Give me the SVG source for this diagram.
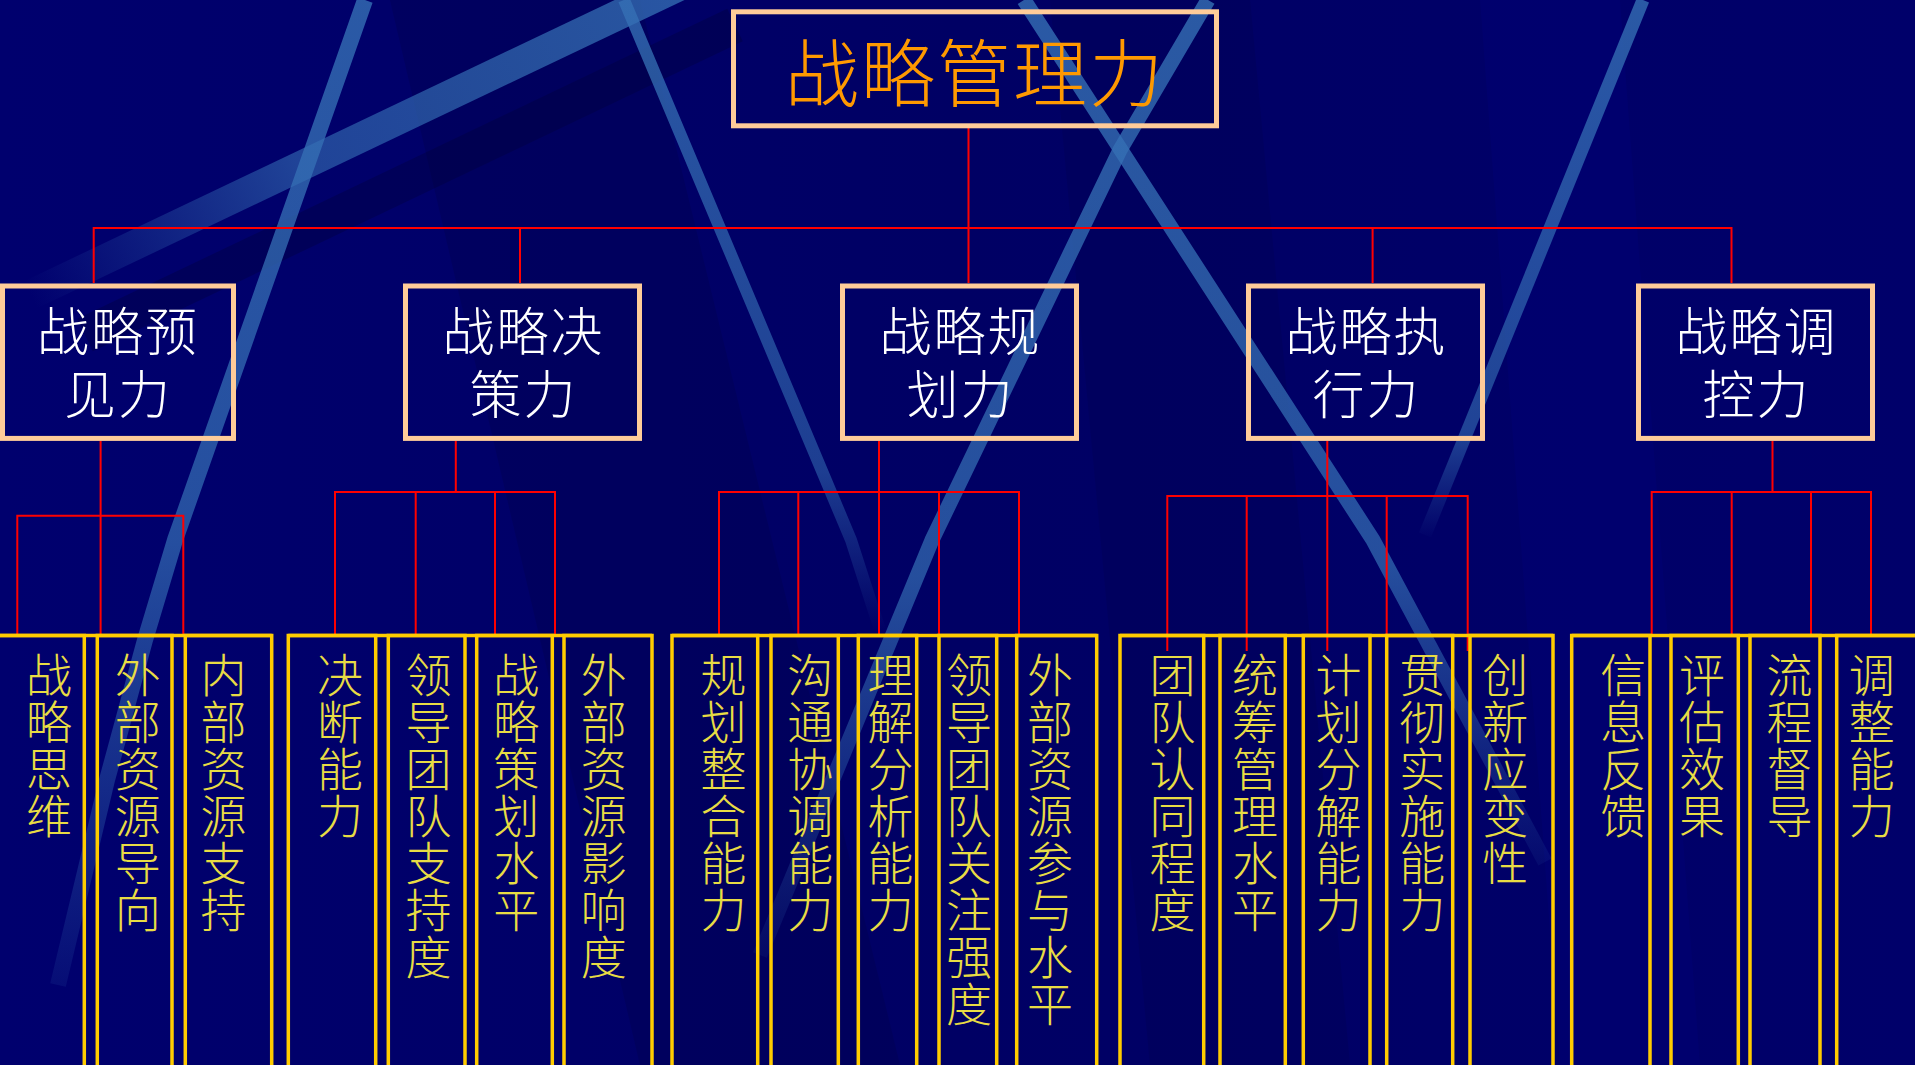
<svg xmlns="http://www.w3.org/2000/svg" width="1915" height="1065" viewBox="0 0 1915 1065">
<style>
.hub{fill:none;stroke:#FFCC99;stroke-width:5}
.leaf{fill:none;stroke:#FFCC00;stroke-width:3.5}
.conn path{fill:none;stroke:#FF0000;stroke-width:2}
.cjk{font-family:"Noto Sans CJK SC","Noto Sans CJK JP",sans-serif;font-weight:300}
.t1{font-size:74px;fill:#FF9900;text-anchor:middle;letter-spacing:2px}
.t2{font-size:52px;fill:#FFFFFF;text-anchor:middle;letter-spacing:2px}
.t3{font-size:46px;fill:#E8DC44;writing-mode:vertical-rl;text-orientation:upright;letter-spacing:1px}
</style>
<defs>
<linearGradient id="bg" x1="0" y1="0" x2="1" y2="0">
<stop offset="0" stop-color="#00006E"/>
<stop offset="0.5" stop-color="#000064"/>
<stop offset="1" stop-color="#00006A"/>
</linearGradient>
<linearGradient id="gS1" gradientUnits="userSpaceOnUse" x1="0" y1="0" x2="0" y2="985">
<stop offset="0" stop-color="#3570B5" stop-opacity="0.8"/>
<stop offset="0.55" stop-color="#3570B5" stop-opacity="0.7"/>
<stop offset="1" stop-color="#3570B5" stop-opacity="0.12"/>
</linearGradient>
<linearGradient id="gS2" gradientUnits="userSpaceOnUse" x1="700" y1="-24" x2="30" y2="295">
<stop offset="0" stop-color="#3570B5" stop-opacity="0.78"/>
<stop offset="0.6" stop-color="#3570B5" stop-opacity="0.6"/>
<stop offset="1" stop-color="#3570B5" stop-opacity="0"/>
</linearGradient>
<linearGradient id="gS3" gradientUnits="userSpaceOnUse" x1="0" y1="0" x2="0" y2="630">
<stop offset="0" stop-color="#3570B5" stop-opacity="0.8"/>
<stop offset="0.75" stop-color="#3570B5" stop-opacity="0.55"/>
<stop offset="1" stop-color="#3570B5" stop-opacity="0"/>
</linearGradient>
<linearGradient id="gS4" gradientUnits="userSpaceOnUse" x1="0" y1="0" x2="0" y2="870">
<stop offset="0" stop-color="#3570B5" stop-opacity="0.8"/>
<stop offset="0.65" stop-color="#3570B5" stop-opacity="0.7"/>
<stop offset="1" stop-color="#3570B5" stop-opacity="0.08"/>
</linearGradient>
<linearGradient id="gS5" gradientUnits="userSpaceOnUse" x1="0" y1="0" x2="0" y2="960">
<stop offset="0" stop-color="#3570B5" stop-opacity="0.8"/>
<stop offset="0.6" stop-color="#3570B5" stop-opacity="0.7"/>
<stop offset="1" stop-color="#3570B5" stop-opacity="0.08"/>
</linearGradient>
<linearGradient id="gS6" gradientUnits="userSpaceOnUse" x1="0" y1="0" x2="0" y2="540">
<stop offset="0" stop-color="#3570B5" stop-opacity="0.8"/>
<stop offset="0.8" stop-color="#3570B5" stop-opacity="0.6"/>
<stop offset="1" stop-color="#3570B5" stop-opacity="0"/>
</linearGradient>
</defs>

<g id="background">
<rect x="0" y="0" width="1915" height="1065" fill="url(#bg)"/>
<polygon points="390,0 640,0 900,1065 640,1065" fill="#00004A" opacity="0.3"/>
<polygon points="1050,0 1250,0 1350,1065 1150,1065" fill="#00004A" opacity="0.25"/>
<polygon points="1480,0 1620,0 1700,1065 1560,1065" fill="#000080" opacity="0.25"/>
<path d="M735,25 L85,335" stroke="#000038" stroke-width="36" opacity="0.35" fill="none"/>
<path d="M700,-24 L30,295" stroke="url(#gS2)" stroke-width="30" fill="none"/>
<path d="M365,0 L175,540 L145,640 L107,780 L58,985" stroke="url(#gS1)" stroke-width="16" fill="none" stroke-linejoin="round"/>
<path d="M624,0 L851,540 L880,630" stroke="url(#gS3)" stroke-width="12" fill="none"/>
<path d="M1024,0 L1373,540 L1545,862" stroke="url(#gS4)" stroke-width="15" fill="none"/>
<path d="M1208,0 L1120,150 L932,540 L760,955" stroke="url(#gS5)" stroke-width="15" fill="none" stroke-linejoin="round"/>
<path d="M1643,0 L1425,535" stroke="url(#gS6)" stroke-width="13" fill="none"/>
</g>

<g id="connectors" class="conn">
<path d="M93.7,283 V228 H1731.5 V283 M520,228 V283 M968.5,128 V283 M1372.6,228 V283"/>
<path d="M100.6,441 V634 M17.3,634 V515.7 H183.3 V634"/>
<path d="M455.8,441 V492 M335,634 V492 H555 V634 M415.7,492 V634 M495,492 V634"/>
<path d="M879,441 V634 M719,634 V492 H1019 V634 M798.3,492 V634 M939,492 V634"/>
<path d="M1327.3,441 V651 M1167.3,651 V496 H1467.7 V651 M1246.7,496 V651 M1386.7,496 V634"/>
<path d="M1772.5,441 V492 M1651.7,634 V492 H1871 V634 M1731.7,492 V634 M1811,492 V634"/>
</g>

<g id="n-root">
<rect class="hub" x="733.5" y="11.8" width="483" height="114"/>
<text class="cjk t1" x="975" y="101">战略管理力</text>
</g>

<g id="n-foresight">
<rect class="hub" x="2.5" y="286" width="231" height="152.4"/>
<text class="cjk t2"><tspan x="118" y="351">战略预</tspan><tspan x="118" y="414">见力</tspan></text>
</g>
<g id="n-decision">
<rect class="hub" x="405.5" y="286" width="234" height="152.4"/>
<text class="cjk t2"><tspan x="523.5" y="351">战略决</tspan><tspan x="523.5" y="414">策力</tspan></text>
</g>
<g id="n-planning">
<rect class="hub" x="842.5" y="286" width="234" height="152.4"/>
<text class="cjk t2"><tspan x="960.5" y="351">战略规</tspan><tspan x="960.5" y="414">划力</tspan></text>
</g>
<g id="n-execution">
<rect class="hub" x="1248.5" y="286" width="234" height="152.4"/>
<text class="cjk t2"><tspan x="1366.5" y="351">战略执</tspan><tspan x="1366.5" y="414">行力</tspan></text>
</g>
<g id="n-control">
<rect class="hub" x="1638.5" y="286" width="234" height="152.4"/>
<text class="cjk t2"><tspan x="1756.5" y="351">战略调</tspan><tspan x="1756.5" y="414">控力</tspan></text>
</g>

<g id="leaf-frames">
<path class="leaf" d="M-3,635.5 H271.7 M288.3,635.5 H652 M672,635.5 H1096.7 M1120,635.5 H1553 M1571.7,635.5 H1918"/>
</g>

<g id="l1-1"><rect class="leaf" x="-3" y="635.5" width="87.3" height="450"/><text class="cjk t3" x="49" y="652">战略思维</text></g>
<g id="l1-2"><rect class="leaf" x="97.3" y="635.5" width="74.7" height="450"/><text class="cjk t3" x="137.8" y="652">外部资源导向</text></g>
<g id="l1-3"><rect class="leaf" x="185.3" y="635.5" width="86.4" height="450"/><text class="cjk t3" x="223.6" y="652">内部资源支持</text></g>

<g id="l2-1"><rect class="leaf" x="288.3" y="635.5" width="87.4" height="450"/><text class="cjk t3" x="339.9" y="652">决断能力</text></g>
<g id="l2-2"><rect class="leaf" x="388.3" y="635.5" width="76.7" height="450"/><text class="cjk t3" x="428.6" y="652">领导团队支持度</text></g>
<g id="l2-3"><rect class="leaf" x="476.7" y="635.5" width="75.6" height="450"/><text class="cjk t3" x="516.2" y="652">战略策划水平</text></g>
<g id="l2-4"><rect class="leaf" x="564" y="635.5" width="88" height="450"/><text class="cjk t3" x="603.8" y="652">外部资源影响度</text></g>

<g id="l3-1"><rect class="leaf" x="672" y="635.5" width="85.7" height="450"/><text class="cjk t3" x="723.5" y="652">规划整合能力</text></g>
<g id="l3-2"><rect class="leaf" x="771" y="635.5" width="67.3" height="450"/><text class="cjk t3" x="810.2" y="652">沟通协调能力</text></g>
<g id="l3-3"><rect class="leaf" x="858.3" y="635.5" width="58.4" height="450"/><text class="cjk t3" x="890.4" y="652">理解分析能力</text></g>
<g id="l3-4"><rect class="leaf" x="939" y="635.5" width="57.7" height="450"/><text class="cjk t3" x="969" y="652">领导团队关注强度</text></g>
<g id="l3-5"><rect class="leaf" x="1016.7" y="635.5" width="80" height="450"/><text class="cjk t3" x="1049.9" y="652">外部资源参与水平</text></g>

<g id="l4-1"><rect class="leaf" x="1120" y="635.5" width="83.7" height="450"/><text class="cjk t3" x="1172.4" y="652">团队认同程度</text></g>
<g id="l4-2"><rect class="leaf" x="1220" y="635.5" width="65.3" height="450"/><text class="cjk t3" x="1255" y="652">统筹管理水平</text></g>
<g id="l4-3"><rect class="leaf" x="1303.3" y="635.5" width="66.7" height="450"/><text class="cjk t3" x="1338.4" y="652">计划分解能力</text></g>
<g id="l4-4"><rect class="leaf" x="1386.7" y="635.5" width="66" height="450"/><text class="cjk t3" x="1422.2" y="652">贯彻实施能力</text></g>
<g id="l4-5"><rect class="leaf" x="1470" y="635.5" width="83" height="450"/><text class="cjk t3" x="1505.3" y="652">创新应变性</text></g>

<g id="l5-1"><rect class="leaf" x="1571.7" y="635.5" width="78.3" height="450"/><text class="cjk t3" x="1623.3" y="652">信息反馈</text></g>
<g id="l5-2"><rect class="leaf" x="1671" y="635.5" width="67.3" height="450"/><text class="cjk t3" x="1702.1" y="652">评估效果</text></g>
<g id="l5-3"><rect class="leaf" x="1750" y="635.5" width="70" height="450"/><text class="cjk t3" x="1789.6" y="652">流程督导</text></g>
<g id="l5-4"><rect class="leaf" x="1836.7" y="635.5" width="81.3" height="450"/><text class="cjk t3" x="1871.7" y="652">调整能力</text></g>
</svg>
